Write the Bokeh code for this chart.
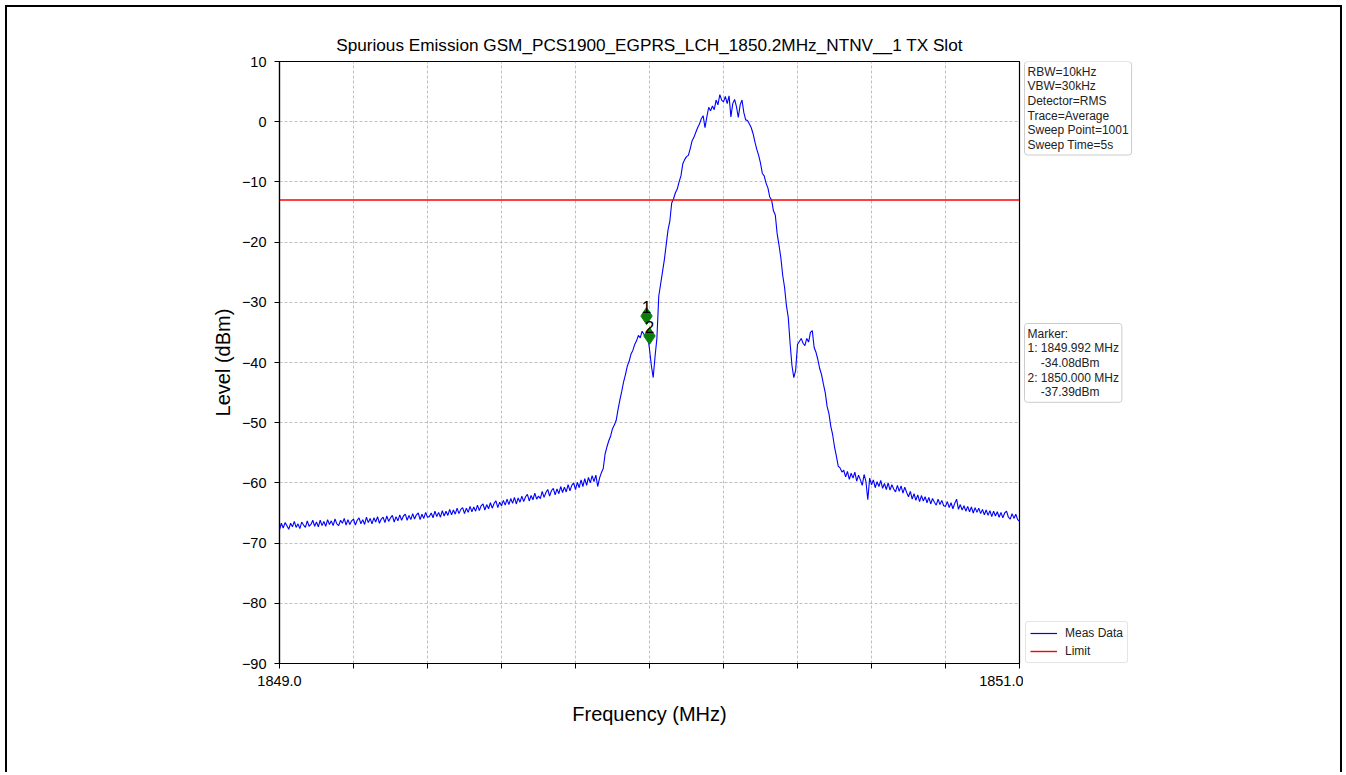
from bokeh.plotting import figure
from bokeh.models import (Range1d, FixedTicker, Label, Legend, LegendItem,
                          ColumnDataSource, CustomJSTickFormatter, Row)
from bokeh.transform import dodge
from bokeh.core.properties import value
from bokeh.embed import file_html
from bokeh.resources import INLINE

# ---------------- data ----------------
title_text = "Spurious Emission GSM_PCS1900_EGPRS_LCH_1850.2MHz_NTNV__1 TX Slot"
freq_start = 1849.0
freq_stop = 1851.0
level_dbm = [
    -67.8, -66.7, -67.5, -66.6, -67.1, -67.7, -66.7, -67.3, -66.4, -67.4,
    -66.8, -67.6, -66.5, -67.0, -67.4, -66.3, -67.2, -66.9, -66.2, -67.2,
    -66.5, -67.3, -66.2, -67.1, -66.4, -67.2, -66.1, -66.9, -66.3, -67.1,
    -66.0, -66.8, -67.1, -66.2, -66.7, -65.9, -67.0, -66.1, -66.9, -66.3,
    -66.0, -67.0, -66.2, -65.8, -66.8, -66.1, -66.9, -65.7, -66.6, -65.9,
    -66.8, -65.8, -66.5, -65.6, -66.7, -66.0, -65.7, -66.6, -65.5, -66.4,
    -65.8, -65.4, -66.5, -65.6, -66.3, -65.3, -66.2, -65.5, -65.2, -66.2,
    -65.4, -66.1, -65.1, -66.0, -65.3, -65.0, -66.1, -65.2, -65.9, -64.9,
    -65.7, -65.6, -65.0, -65.8, -64.7, -65.6, -64.9, -65.7, -64.6, -65.5,
    -64.7, -65.4, -64.4, -65.3, -64.5, -65.2, -64.2, -65.1, -64.4, -64.1,
    -65.1, -64.2, -64.9, -63.9, -64.8, -64.0, -64.7, -63.7, -64.6, -63.8,
    -63.5, -64.5, -63.6, -64.3, -63.3, -64.2, -63.4, -63.0, -64.1, -63.2,
    -63.8, -62.9, -63.7, -62.7, -63.6, -62.6, -63.4, -62.4, -63.5, -62.5,
    -63.2, -62.2, -63.1, -62.3, -61.9, -63.0, -62.1, -62.8, -61.7, -62.7,
    -62.2, -62.6, -61.4, -62.4, -61.6, -61.1, -62.2, -61.3, -60.9, -62.0,
    -61.0, -61.8, -60.6, -61.6, -60.7, -61.5, -60.3, -61.3, -60.4, -60.0,
    -61.1, -59.9, -60.8, -59.5, -60.6, -59.3, -60.4, -59.1, -60.0, -58.8,
    -59.8, -58.7, -60.6, -59.2, -58.3, -57.6,
    -55.2, -54.0, -53.0, -52.2, -51.0, -50.4, -49.6, -47.8, -46.2, -44.8,
    -43.2, -42.0, -40.6, -39.8, -38.6, -38.0, -37.0, -36.4, -35.5, -35.9,
    -34.8, -35.3, -35.9, -35.4,
    -37.8, -40.5, -42.5, -39.0, -36.0, -29.0,
    -27.0, -25.0, -23.0, -20.5, -18.0, -16.5, -13.5, -12.8, -11.8, -11.2,
    -10.0, -9.0, -7.0, -6.3, -5.8, -5.6, -4.5, -3.2, -2.6, -1.8,
    -1.0, -0.4, 0.5, 1.0, -1.0, 0.8, 2.4, 1.8, 2.6, 2.0,
    3.6, 2.8, 4.5, 3.6, 3.3, 4.2, 3.0, 4.3, 0.8, 3.0,
    3.7, 2.5, 0.7, 2.8, 3.6, 1.5, 0.3, 0.2, -0.4, -1.0,
    -2.0, -3.4, -4.6, -5.6, -6.9, -8.6, -9.0, -10.2, -11.0, -12.5,
    -13.0, -14.8, -15.5, -18.6, -20.5, -22.6, -25.5, -27.5, -30.5, -32.5,
    -36.8, -40.5, -42.5, -41.3, -37.0, -36.5, -36.0, -36.8, -37.2, -36.0,
    -36.6, -35.0, -34.7, -37.5, -38.3, -39.5, -41.0, -42.0, -43.6, -45.0,
    -47.3, -48.5, -50.6, -52.0, -54.0, -55.5, -57.2, -57.5, -58.2, -57.9,
    -59.0, -58.1, -59.4, -58.4, -59.2, -58.2, -59.7, -58.7, -59.5, -60.4,
    -58.6, -59.8, -62.8, -59.2,
    -60.3, -59.5, -60.8, -59.8, -60.6, -59.6, -60.9, -60.1, -61.1, -60.0,
    -61.2, -60.3, -61.0, -61.5, -60.4, -61.4, -60.5, -61.7, -60.7, -61.6,
    -62.3, -61.4, -62.7, -61.8, -62.9, -62.0, -63.1, -62.1, -63.0, -62.3,
    -63.3, -62.4, -63.5, -62.6, -63.2, -63.7, -62.7, -63.6, -62.9, -63.8,
    -63.9, -63.1, -64.1, -63.3, -64.3, -63.4, -62.7, -64.4, -63.6, -64.5,
    -63.8, -64.7, -63.9, -64.8, -64.0, -65.0, -64.1, -64.9, -64.2, -65.1,
    -64.4, -65.3, -64.5, -65.4, -64.6, -65.6, -64.7, -65.5, -64.8, -65.7,
    -64.9, -65.8, -65.0, -64.7, -65.7, -66.0, -65.1, -65.9, -65.2, -66.1,
    -66.4,
]
n_points = len(level_dbm)
freq_mhz = [freq_start + (freq_stop - freq_start) * i / (n_points - 1)
            for i in range(n_points)]

limit_dbm = -13.0

marker_names = ["1", "2"]
marker_freq = [1849.992, 1850.000]
marker_level = [-34.08, -37.39]

x_ticks = [1849.0, 1849.2, 1849.4, 1849.6, 1849.8, 1850.0,
           1850.2, 1850.4, 1850.6, 1850.8, 1851.0]
x_labelled = [1849.0, 1851.0]
y_ticks = [-90, -80, -70, -60, -50, -40, -30, -20, -10, 0, 10]

info_lines = ["RBW=10kHz", "VBW=30kHz", "Detector=RMS", "Trace=Average",
              "Sweep Point=1001", "Sweep Time=5s"]
marker_lines = ["Marker:",
                "1: 1849.992 MHz", "\u00a0\u00a0\u00a0\u00a0-34.08dBm",
                "2: 1850.000 MHz", "\u00a0\u00a0\u00a0\u00a0-37.39dBm"]
legend_labels = ["Meas Data", "Limit"]

FONT = "Liberation Sans"
H = 765
TOP = 54
FRAME_H = 602
BOTTOM = H - TOP - FRAME_H

# ---------------- main figure ----------------
p = figure(width=1016, height=H, output_backend="svg", toolbar_location=None,
           x_range=Range1d(freq_start, freq_stop), y_range=Range1d(-90, 10),
           min_border_left=272, min_border_right=4, min_border_top=TOP,
           min_border_bottom=BOTTOM, title=title_text)

p.title.align = "center"
p.title.text_font = FONT
p.title.text_font_size = "17.2px"
p.title.text_font_style = "normal"
p.title.text_color = "#000000"
p.title.standoff = 14

p.outline_line_color = "#000000"
p.outline_line_width = 1.2
p.background_fill_color = "white"
p.border_fill_color = "white"

for ax in (p.xaxis[0], p.yaxis[0]):
    ax.axis_line_color = "#000000"
    ax.axis_line_width = 1.2
    ax.major_tick_line_color = "#000000"
    ax.major_tick_in = 0
    ax.major_tick_out = 5
    ax.minor_tick_line_color = None
    ax.major_label_text_font = FONT
    ax.major_label_text_font_size = "14.5px"
    ax.major_label_text_color = "#000000"
    ax.axis_label_text_font = FONT
    ax.axis_label_text_font_size = "20px"
    ax.axis_label_text_font_style = "normal"
    ax.axis_label_text_color = "#000000"

p.xaxis.ticker = FixedTicker(ticks=x_ticks)
p.xaxis.formatter = CustomJSTickFormatter(
    args=dict(keep=x_labelled),
    code="return keep.some(k => Math.abs(k - tick) < 1e-9) ? tick.toFixed(1) : '';")
p.xaxis.axis_label = "Frequency (MHz)"
p.xaxis.major_label_standoff = 7
p.xaxis.axis_label_standoff = 14

p.yaxis.ticker = FixedTicker(ticks=y_ticks)
p.yaxis.formatter = CustomJSTickFormatter(
    code="return tick < 0 ? '\\u2212' + Math.abs(tick) : String(tick);")
p.yaxis.axis_label = "Level (dBm)"
p.yaxis.major_label_standoff = 8
p.yaxis.axis_label_standoff = 5

p.xgrid.ticker = FixedTicker(ticks=x_ticks)
p.ygrid.ticker = FixedTicker(ticks=y_ticks)
for g in (p.xgrid[0], p.ygrid[0]):
    g.grid_line_color = "#b0b0b0"
    g.grid_line_dash = "3 2"
    g.grid_line_width = 0.8

src = ColumnDataSource(dict(freq=freq_mhz, level=level_dbm))
lim_src = ColumnDataSource(dict(freq=[freq_start, freq_stop], level=[limit_dbm, limit_dbm]))
p.line("freq", "level", source=src, line_color="#0000ff", line_width=1.1)
p.line("freq", "level", source=lim_src, line_color="#ff0000", line_width=1.4)

msrc = ColumnDataSource(dict(freq=marker_freq, level=marker_level, name=marker_names))
p.scatter(x="freq", y=dodge("level", 1.8), source=msrc, marker="diamond",
          size=17, fill_color="#0a800a", line_color="#0a800a")
p.text(x="freq", y=dodge("level", 1.8), text="name", source=msrc,
       text_font=value(FONT), text_font_size="17px", text_color="#000000",
       text_align="center", text_baseline="alphabetic", y_offset=-9)

# ---------------- side panel (annotation boxes + legend) ----------------
SW = 317
s = figure(width=SW, height=H, output_backend="svg", toolbar_location=None,
           x_range=Range1d(0, SW), y_range=Range1d(FRAME_H, 0),
           x_axis_type=None, y_axis_type=None,
           min_border_left=0, min_border_right=0, min_border_top=TOP,
           min_border_bottom=BOTTOM)
s.grid.visible = False
s.outline_line_color = None
s.background_fill_color = "white"
s.border_fill_color = "white"

box_style = dict(anchor="top_left",
                 text_font=FONT, text_font_size="12px", text_color="#222222",
                 text_line_height=1.05, padding=3,
                 border_line_color="#cccccc", border_line_width=1,
                 background_fill_color="white", border_radius=3)
s.add_layout(Label(x=1, y=0, text="\n".join(info_lines), **box_style))
s.add_layout(Label(x=1, y=262, text="\n".join(marker_lines), **box_style))

# legend renderers: same series, drawn off-panel so only their legend glyphs show
leg_meas = s.line("freq", "level", source=src, line_color="#0000ff", line_width=1.2)
leg_lim = s.line("freq", "level", source=lim_src, line_color="#ff0000", line_width=1.4)
legend = Legend(items=[LegendItem(label=legend_labels[0], renderers=[leg_meas]),
                       LegendItem(label=legend_labels[1], renderers=[leg_lim])],
                location=(2, 0), orientation="vertical",
                label_text_font=FONT, label_text_font_size="12px",
                label_text_color="#222222",
                glyph_width=27, glyph_height=14, label_height=14,
                label_standoff=8, spacing=4, padding=4, margin=0,
                border_line_color="#cccccc", border_line_width=1,
                border_radius=3, background_fill_alpha=1)
s.add_layout(legend, "center")

layout = Row(children=[p, s], spacing=0,
             styles={"margin": "5px 0 0 5px",
                     "border-left": "2px solid #000", "border-top": "2px solid #000",
                     "border-right": "2px solid #000"})

open("out.html", "w").write(file_html(layout, INLINE))
